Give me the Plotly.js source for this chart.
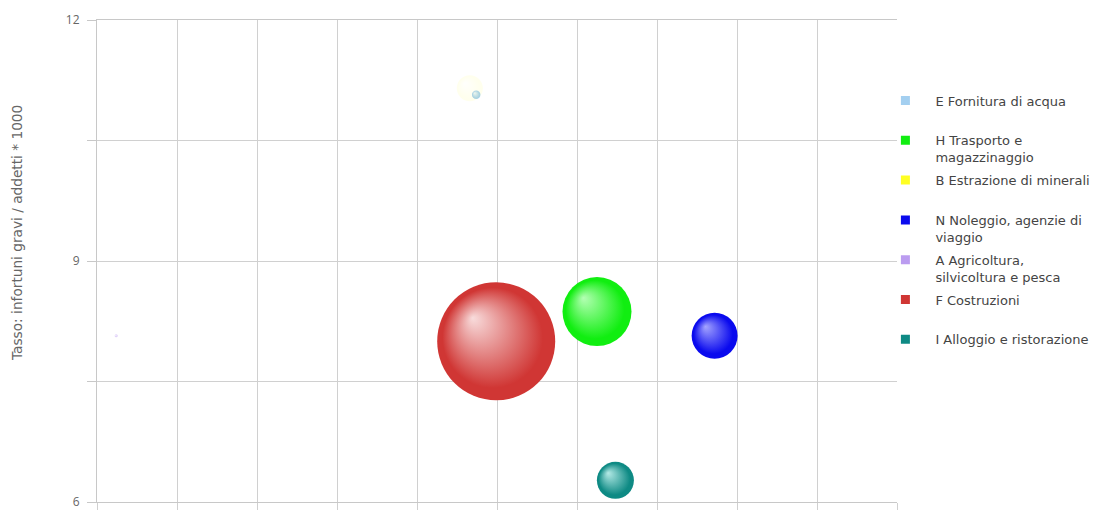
<!DOCTYPE html>
<html><head><meta charset="utf-8">
<script src="https://cdn.plot.ly/plotly-3.0.1.min.js"></script>
<style>html,body{margin:0;padding:0;background:#fff;} #chart{width:1097px;height:510px;}</style>
</head><body><div id="chart"></div>
<script>
// Sectors (legend order)
const sectors = [
  "E Fornitura di acqua",
  "H Trasporto e<br>magazzinaggio",
  "B Estrazione di minerali",
  "N Noleggio, agenzie di<br>viaggio",
  "A Agricoltura,<br>silvicoltura e pesca",
  "F Costruzioni",
  "I Alloggio e ristorazione"
];
const colors     = ["#a3cff0", "#11ee11", "#ffff22", "#0a0aee", "#bb9cf0", "#d03634", "#0e8a84"];
const highlights = ["#eef7fd", "#b4ffb4", "#ffffe0", "#a4a4ff", "#f0e8ff", "#f8dcdc", "#b4eae6"];
const xValues    = [4.74, 6.25, 4.66, 7.72, 0.24, 4.99, 6.48];
const rateValues = [11.07, 8.37, 11.15, 8.07, 8.07, 8.00, 6.27];
const sizeValues = [72, 4761, 676, 2116, 9, 13924, 1369];
const opacities  = [1, 1, 0.08, 1, 0.5, 1, 1];
const yTickVals  = [6, 7.5, 9, 10.5, 12];
const yTickText  = ["6", "", "9", "", "12"];
const yTitle     = "Tasso: infortuni gravi / addetti * 1000";

const FONT = "DejaVu Sans, sans-serif";

const traces = [{
  type: "scatter", mode: "markers",
  x: xValues, y: rateValues,
  text: sectors, hoverinfo: "text",
  showlegend: false,
  marker: {
    size: sizeValues, sizemode: "area", sizeref: 2,
    color: colors, opacity: opacities,
    line: {width: 0},
    gradient: {type: "radial", color: highlights}
  }
}];
sectors.forEach((s, i) => {
  const lbl = s.indexOf("<br>") >= 0 ? s : s + "<br>\u00a0";
  traces.push({
    type: "scatter", mode: "markers", x: [null], y: [null],
    name: lbl, legendgroup: "g" + i, showlegend: true,
    marker: {symbol: "square", size: 9, color: colors[i]}
  });
});

const layout = {
  width: 1097, height: 510,
  margin: {l: 97, r: 200, t: 20, b: 8, autoexpand: false},
  paper_bgcolor: "#fff", plot_bgcolor: "#fff",
  font: {family: FONT, size: 12, color: "#666"},
  xaxis: {
    range: [0, 10], tick0: 0, dtick: 1, showticklabels: false,
    showgrid: true, gridcolor: "#d0d0d0", gridwidth: 1,
    ticks: "outside", ticklen: 8, tickcolor: "#d0d0d0",
    showline: true, linecolor: "#c8c8c8", mirror: true, zeroline: false, fixedrange: true
  },
  yaxis: {
    range: [6, 12], tickmode: "array", tickvals: yTickVals, ticktext: yTickText,
    showgrid: true, gridcolor: "#d0d0d0", gridwidth: 1,
    ticks: "outside", ticklen: 9, tickcolor: "#c8c8c8", ticklabelstandoff: 5,
    ticklabeloverflow: "allow",
    showline: true, linecolor: "#c8c8c8", zeroline: false, fixedrange: true,
    tickfont: {family: "Open Sans, sans-serif", size: 12, color: "#666666"}
  },
  annotations: [{
    text: yTitle, textangle: -90, showarrow: false,
    xref: "paper", yref: "paper", x: (17 - 97) / 800, y: (502 - 233) / 482,
    xanchor: "center", yanchor: "middle",
    font: {family: FONT, size: 13.7, color: "#666"}
  }],
  showlegend: true,
  legend: {
    x: 0.973, y: 0.864, xanchor: "left", yanchor: "top",
    traceorder: "grouped", tracegroupgap: 3, valign: "top",
    font: {family: FONT, size: 13, color: "#444"},
    bgcolor: "rgba(0,0,0,0)", itemwidth: 50
  }
};

function darker(hex, f) {
  const n = parseInt(hex.slice(1), 16);
  const r = Math.round(((n >> 16) & 255) * f), g = Math.round(((n >> 8) & 255) * f), b = Math.round((n & 255) * f);
  return "rgb(" + r + "," + g + "," + b + ")";
}

Plotly.newPlot("chart", traces, layout, {staticPlot: true}).then(gd => {
  gd.querySelectorAll("radialGradient").forEach(g => {
    g.setAttribute("cx", "0.5"); g.setAttribute("cy", "0.5");
    g.setAttribute("r", "0.5");
    g.setAttribute("fx", "0.3"); g.setAttribute("fy", "0.3");
    const stops = g.querySelectorAll("stop");
    if (stops.length >= 2) {
      const last = stops[stops.length - 1];
      const base = last.getAttribute("stop-color");
      last.setAttribute("offset", "0.85");
      const edge = document.createElementNS("http://www.w3.org/2000/svg", "stop");
      edge.setAttribute("offset", "1");
      let c = base;
      if (/^#[0-9a-f]{6}$/i.test(base)) c = darker(base, 0.86);
      edge.setAttribute("stop-color", c);
      const op = last.getAttribute("stop-opacity");
      if (op !== null) edge.setAttribute("stop-opacity", op);
      g.appendChild(edge);
    }
  });
});
</script>
</body></html>
